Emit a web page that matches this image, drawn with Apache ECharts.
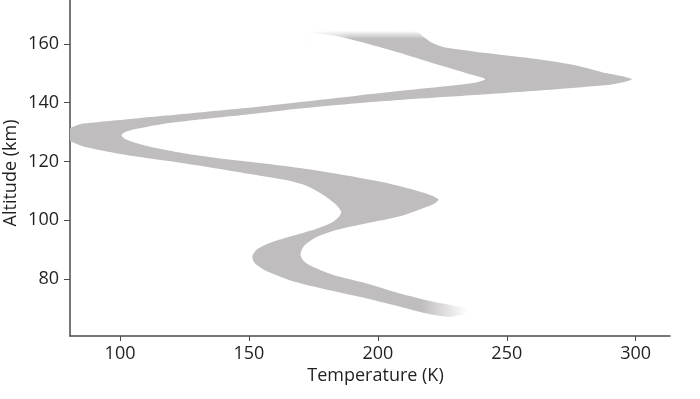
<!DOCTYPE html>
<html>
<head>
<meta charset="utf-8">
<script src="https://cdn.jsdelivr.net/npm/echarts@6/dist/echarts.min.js"></script>
<style>
  html, body { margin: 0; padding: 0; background: #fff; }
  #chart { width: 700px; height: 399px; }
</style>
</head>
<body>
<div id="chart"></div>
<script>
// tick labels
var tempTicks = [100, 150, 200, 250, 300];
var altTicks = [80, 100, 120, 140, 160];

// left (cold) edge of the band, [temperature K, altitude km], top to bottom
var leftEdge = [
  [172.4, 164.2], [185.3, 162.5], [204.7, 158.0], [224.1, 152.8], [237.0, 149.4],
  [241.6, 148.0], [236.9, 146.7], [217.5, 144.8], [191.9, 142.4], [169.8, 140.2],
  [156.6, 138.9], [143.8, 137.8], [130.6, 136.7], [117.8, 135.6], [105.0, 134.5],
  [91.9, 133.4], [84.1, 132.6], [80.5, 131.2], [78.8, 129.3], [80.5, 127.1],
  [85.5, 125.2], [92.0, 123.9], [104.9, 121.8], [113.0, 120.8], [124.6, 119.4],
  [137.5, 117.6], [150.4, 115.7], [163.3, 113.8], [172.0, 111.8], [178.4, 108.8],
  [183.6, 105.4], [185.8, 102.6], [183.0, 99.6], [176.0, 97.0], [165.9, 94.4],
  [157.5, 92.0], [153.0, 89.9], [151.3, 87.6], [152.3, 85.3], [156.9, 82.6],
  [168.5, 78.8], [182.7, 75.8], [195.7, 73.3], [208.6, 70.5], [219.0, 68.2],
  [228.0, 67.1], [236.0, 68.7]
];

// right (warm) edge of the band, top to bottom
var rightEdge = [
  [215.1, 164.2], [217.5, 162.6], [221.4, 160.3], [226.8, 158.7], [237.7, 157.4],
  [257.1, 155.4], [276.5, 152.8], [288.9, 150.0], [295.9, 148.8], [298.6, 148.0],
  [294.7, 146.9], [288.9, 146.0], [269.5, 144.6], [243.5, 143.0], [217.5, 141.5],
  [191.9, 139.8], [169.8, 138.0], [156.6, 136.7], [143.8, 135.5], [130.6, 134.3],
  [117.8, 132.9], [106.0, 131.0], [101.8, 129.9], [100.6, 128.9], [101.8, 127.7],
  [105.5, 126.4], [112.0, 124.9], [124.6, 122.8], [137.5, 121.2], [150.4, 119.9],
  [163.3, 118.5], [176.3, 116.9], [189.2, 115.0], [204.7, 112.4], [214.8, 110.1],
  [220.8, 108.4], [223.5, 107.0], [221.8, 105.6], [218.5, 104.4], [208.6, 101.3],
  [195.7, 98.9], [183.5, 96.5], [175.5, 93.9], [171.2, 91.0], [170.0, 88.4],
  [170.8, 86.5], [173.6, 84.6], [182.7, 81.3], [195.7, 78.4], [208.6, 75.0],
  [221.5, 72.2], [234.5, 69.9]
];

var bandColor = '#c0bdbe';
var axisColor = '#4a4a4a';
var textColor = '#231f20';
var font = 'Open Sans';

var chart = echarts.init(document.getElementById('chart'));

function renderBand(params, api) {
  var outline = leftEdge.concat(rightEdge.slice().reverse());
  var pts = outline.map(function (p) { return api.coord(p); });

  // fade patches at the two ends of the band
  var topA = api.coord([168, 164.6]);
  var topB = api.coord([222, 161.8]);
  var tipA = api.coord([168, 165]);
  var tipB = api.coord([190, 159]);
  var botA = api.coord([217, 74.5]);
  var botB = api.coord([238, 65.5]);

  return {
    type: 'group',
    children: [
      {
        type: 'polygon',
        shape: { points: pts, smooth: 0.25 },
        style: { fill: bandColor }
      },
      {
        type: 'rect',
        shape: { x: topA[0], y: topA[1], width: topB[0] - topA[0], height: topB[1] - topA[1] },
        style: {
          fill: new echarts.graphic.LinearGradient(0, 0, 0, 1, [
            { offset: 0, color: 'rgba(255,255,255,1)' },
            { offset: 1, color: 'rgba(255,255,255,0)' }
          ])
        }
      },
      {
        type: 'rect',
        shape: { x: tipA[0], y: tipA[1], width: tipB[0] - tipA[0], height: tipB[1] - tipA[1] },
        style: {
          fill: new echarts.graphic.LinearGradient(0, 0, 1, 0, [
            { offset: 0, color: 'rgba(255,255,255,0.9)' },
            { offset: 1, color: 'rgba(255,255,255,0)' }
          ])
        }
      },
      {
        type: 'rect',
        shape: { x: botA[0], y: botA[1], width: botB[0] - botA[0], height: botB[1] - botA[1] },
        style: {
          fill: new echarts.graphic.LinearGradient(0, 0, 1, 0, [
            { offset: 0, color: 'rgba(255,255,255,0)' },
            { offset: 0.85, color: 'rgba(255,255,255,1)' },
            { offset: 1, color: 'rgba(255,255,255,1)' }
          ])
        }
      }
    ]
  };
}

var option = {
  animation: false,
  grid: { left: 70, right: 30, top: 0, bottom: 63, containLabel: false, outerBoundsMode: 'none' },
  xAxis: {
    type: 'value',
    min: 80.6,
    max: 313.3,
    name: 'Temperature (K)',
    nameLocation: 'middle',
    nameGap: 31,
    nameMoveOverlap: false,
    nameTextStyle: { fontSize: 18, color: textColor, fontFamily: font, padding: [0, 0, 0, 11] },
    axisLine: { show: true, lineStyle: { color: axisColor, width: 1.5 } },
    axisTick: { show: true, length: 5, customValues: tempTicks, lineStyle: { color: axisColor, width: 1 } },
    axisLabel: { customValues: tempTicks, fontSize: 18, color: textColor, fontFamily: font, margin: 9 },
    splitLine: { show: false }
  },
  yAxis: {
    type: 'value',
    min: 60.5,
    max: 175,
    name: 'Altitude (km)',
    nameLocation: 'middle',
    nameGap: 50,
    nameMoveOverlap: false,
    nameTextStyle: { fontSize: 18, color: textColor, fontFamily: font, padding: [0, 10, 0, 0] },
    axisLine: { show: true, lineStyle: { color: axisColor, width: 1.5 } },
    axisTick: { show: true, length: 6, customValues: altTicks, lineStyle: { color: axisColor, width: 1 } },
    axisLabel: { customValues: altTicks, fontSize: 18, color: textColor, fontFamily: font, margin: 11 },
    splitLine: { show: false }
  },
  series: [{
    type: 'custom',
    clip: true,
    renderItem: renderBand,
    data: [0],
    silent: true
  }]
};

chart.setOption(option);
</script>
</body>
</html>
